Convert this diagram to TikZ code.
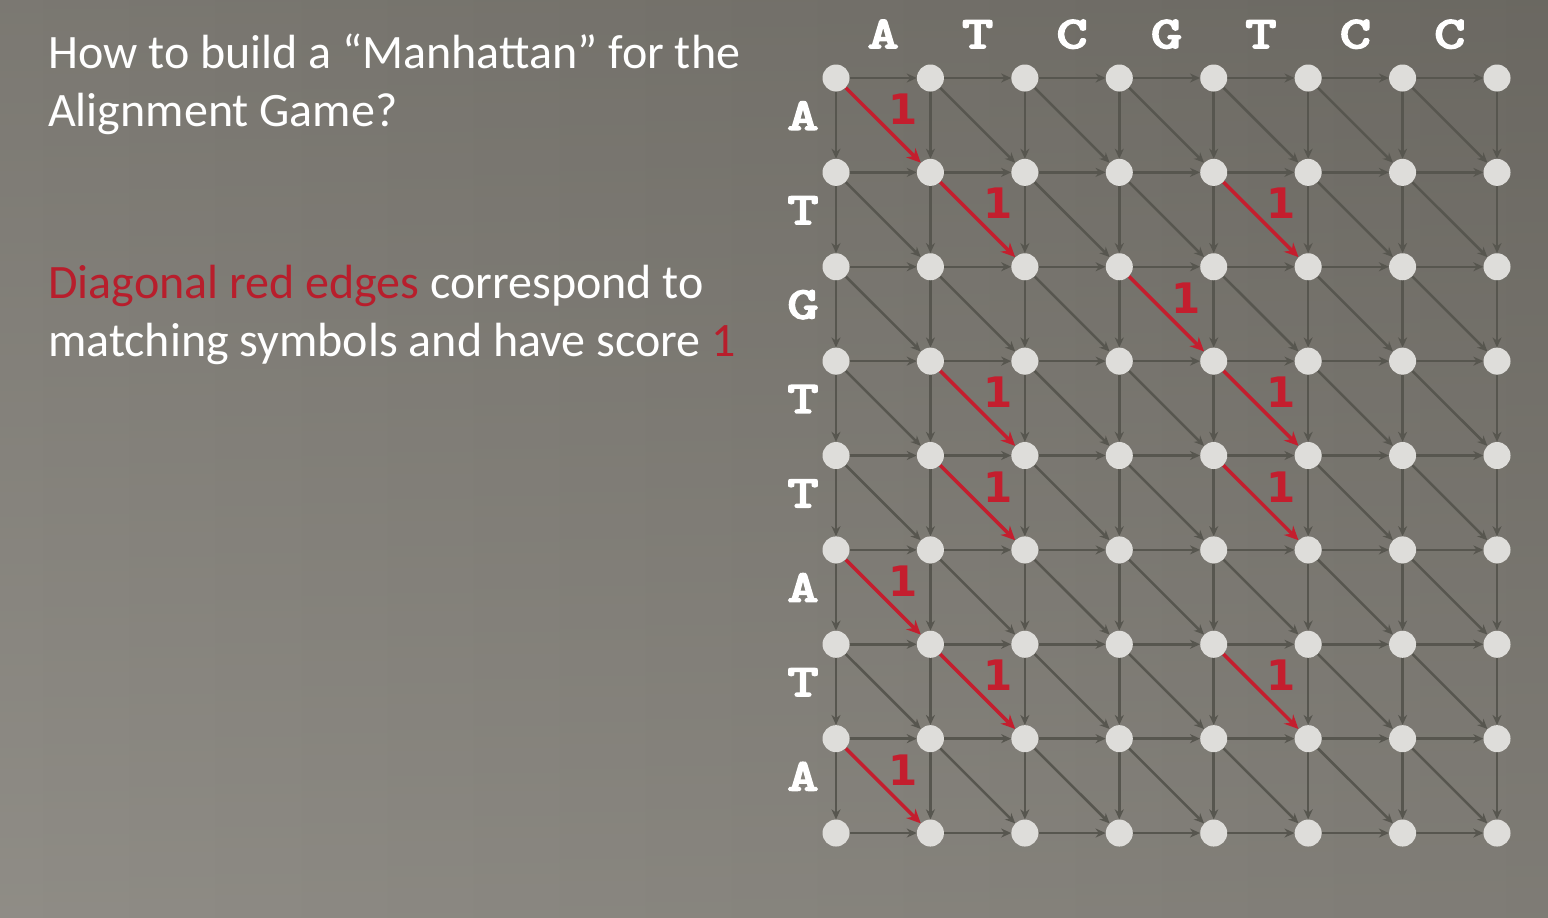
\documentclass[tikz,border=0pt]{standalone}
\usepackage{fontspec}
\setmainfont{Carlito}
\newfontfamily\numfont{DejaVu Sans}
\newfontfamily\labfont{lmmono10-regular.otf}[FakeBold=4]
\usetikzlibrary{arrows.meta}
\definecolor{bgL}{HTML}{86837C}
\definecolor{bgR}{HTML}{74716A}
\definecolor{dotc}{HTML}{DEDDDA}
\definecolor{edgec}{HTML}{57564F}
\definecolor{redc}{HTML}{C41E2E}
\definecolor{txtred}{HTML}{B81E2C}
\pgfdeclarelayer{bg}
\pgfsetlayers{bg,main}
\newcommand\seqch[1]{\scalebox{1.3}[1]{#1}}
\tikzset{
  dot/.style={circle, fill=dotc, draw=none, minimum size=27pt, inner sep=0pt},
  gedge/.style={draw=edgec, line width=2.5pt, -{Stealth[length=10pt,width=9pt]}},
  redge/.style={draw=redc, line width=3.5pt, -{Stealth[length=14pt,width=13pt]}},
  scorelab/.style={text=redc, font=\fontsize{42}{42}\selectfont\numfont\bfseries, inner sep=0pt},
  seqlab/.style={text=white, font=\fontsize{45}{45}\selectfont\labfont, inner sep=0pt, anchor=base},
  body/.style={text=white, font=\fontsize{48}{57}\selectfont, inner sep=0pt, anchor=base west}
}
\begin{document}
\begin{tikzpicture}[x=1pt,y=-1pt]
\useasboundingbox (0,0) rectangle (1548,918);
\begin{pgfonlayer}{bg}
\shade[left color=bgL, right color=bgR] (0,0) rectangle (1548,918);
\shade[top color=black, bottom color=white, opacity=0.08] (0,0) rectangle (1548,918);
\end{pgfonlayer}

% text
\node[body] (t1) at (48,68) {How to build a “Manhattan” for the};
\node[body] (t2) at (48,126) {Alignment Game?};
\node[body] (t3) at (48,298) {\textcolor{txtred}{Diagonal red edges} correspond to};
\node[body] (t4) at (48,356) {matching symbols and have score \textcolor{txtred}{1}};

% grid nodes
\foreach \r in {0,...,8}{
  \foreach \c in {0,...,7}{
    \node[dot] (n-\r-\c) at ({836+94.43*\c},{78+94.38*\r}) {};
  }
}

% sequence labels
\node[seqlab] (col-0) at ({836+94.43*0.5},48) {\seqch{A}};
\node[seqlab] (col-1) at ({836+94.43*1.5},48) {\seqch{T}};
\node[seqlab] (col-2) at ({836+94.43*2.5},48) {\seqch{C}};
\node[seqlab] (col-3) at ({836+94.43*3.5},48) {\seqch{G}};
\node[seqlab] (col-4) at ({836+94.43*4.5},48) {\seqch{T}};
\node[seqlab] (col-5) at ({836+94.43*5.5},48) {\seqch{C}};
\node[seqlab] (col-6) at ({836+94.43*6.5},48) {\seqch{C}};
\node[seqlab] (row-0) at (803,{78+94.38*0.5+4.5}) {\seqch{A}};
\node[seqlab] (row-1) at (803,{78+94.38*1.5+4.5}) {\seqch{T}};
\node[seqlab] (row-2) at (803,{78+94.38*2.5+4.5}) {\seqch{G}};
\node[seqlab] (row-3) at (803,{78+94.38*3.5+4.5}) {\seqch{T}};
\node[seqlab] (row-4) at (803,{78+94.38*4.5+4.5}) {\seqch{T}};
\node[seqlab] (row-5) at (803,{78+94.38*5.5+4.5}) {\seqch{A}};
\node[seqlab] (row-6) at (803,{78+94.38*6.5+4.5}) {\seqch{T}};
\node[seqlab] (row-7) at (803,{78+94.38*7.5+4.5}) {\seqch{A}};

% mark matching (red) diagonals
\foreach \p in {0-0,1-1,1-4,2-3,3-1,3-4,4-1,4-4,5-0,6-1,6-4,7-0}{
  \global\expandafter\let\csname redmark-\p\endcsname\relax
}

\begin{pgfonlayer}{bg}
% horizontal edges
\foreach \r in {0,...,8}{
  \foreach \c in {0,...,6}{
    \pgfmathtruncatemacro\cn{\c+1}
    \draw[gedge] (n-\r-\c) -- (n-\r-\cn);
  }
}
% vertical edges
\foreach \r in {0,...,7}{
  \foreach \c in {0,...,7}{
    \pgfmathtruncatemacro\rn{\r+1}
    \draw[gedge] (n-\r-\c) -- (n-\rn-\c);
  }
}
% diagonal edges
\foreach \r in {0,...,7}{
  \foreach \c in {0,...,6}{
    \pgfmathtruncatemacro\rn{\r+1}
    \pgfmathtruncatemacro\cn{\c+1}
    \ifcsname redmark-\r-\c\endcsname
      \draw[redge] (n-\r-\c) -- node[scorelab, xshift=20pt, yshift=16pt] (s-\r-\c) {1} (n-\rn-\cn);
    \else
      \draw[gedge] (n-\r-\c) -- (n-\rn-\cn);
    \fi
  }
}
\end{pgfonlayer}
\end{tikzpicture}
\end{document}
